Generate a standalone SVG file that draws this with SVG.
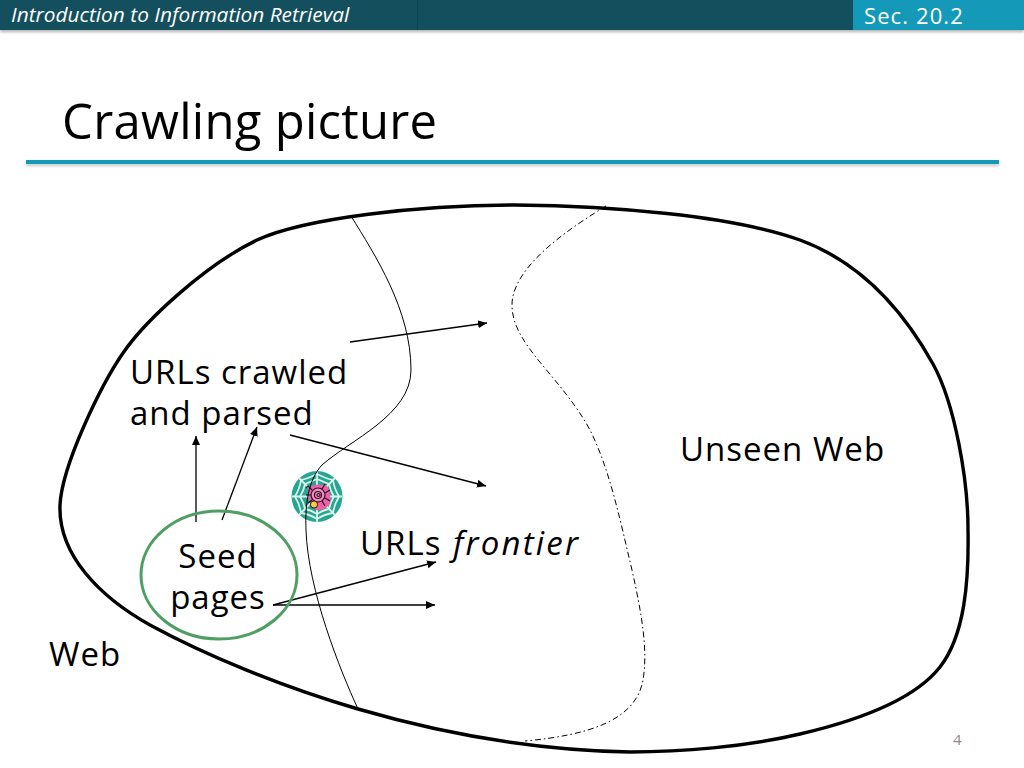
<svg xmlns="http://www.w3.org/2000/svg" width="1024" height="768" viewBox="0 0 1024 768">
<style>
text{font-family:"Open Sans","Noto Sans",sans-serif;fill:#000}
.lbl{font-size:33px;letter-spacing:1px}
.thin{fill:none;stroke:#000;stroke-width:1}
.arr{fill:none;stroke:#000;stroke-width:1.3;marker-end:url(#a)}
</style>
<defs>
<marker id="a" markerUnits="userSpaceOnUse" markerWidth="10" markerHeight="9" refX="9" refY="4" orient="auto"><path d="M0 0L9 4L0 8Z" fill="#000"/></marker>
<filter id="s" x="-2%" y="-50%" width="104%" height="250%"><feGaussianBlur stdDeviation="1.5"/></filter>
</defs>
<rect width="1024" height="768" fill="#fff"/>
<g id="header">
<rect x="0" y="3" width="1024" height="29" fill="#777" opacity=".55" filter="url(#s)"/>
<rect x="0" y="0" width="853" height="30" fill="#134f5c"/>
<rect x="417" y="0" width="1" height="30" fill="#0e434e"/>
<rect x="853" y="0" width="171" height="30" fill="#1499b8"/>
<text x="11" y="22" font-size="20.85" font-style="italic" style="fill:#fff">Introduction to Information Retrieval</text>
<text x="864" y="24" font-size="22" letter-spacing="1.1" style="fill:#fff">Sec. 20.2</text>
</g>
<g id="title">
<text x="62" y="139" font-size="49" letter-spacing=".27">Crawling picture</text>
<rect x="26" y="163" width="973" height="3" fill="#888" opacity=".5" filter="url(#s)"/>
<rect x="26" y="160" width="973" height="4" fill="#1499b8"/>
</g>
<g id="web">
<path d="M60 505C62 465 101 385 123 353C145 321 205 265 257 240C305 218 420 205 515 205C610 206 730 215 800 240C860 262 903 310 933 364C955 404 968 480 968 529C969 580 965 635 940 667C915 699 860 720 800 734C745 747 680 752 630 752C520 750 430 730 358 709C280 686 205 655 150 625C100 597 58 555 60 505Z" fill="none" stroke="#000" stroke-width="3.4"/>
</g>
<g id="crawler">
<circle cx="317" cy="496.500" r="25.500" fill="#26a592"/>
<g fill="none" stroke="#d9f3ea" stroke-width="1.8">
<path d="M317 471V522M292 496.500H342M299 478L335 515M335 478L299 515"/>
<path d="M317 474Q327 479 333 480Q334 488 339 496.500Q334 505 333 513Q325 514 317 519Q309 514 301 513Q300 505 295 496.500Q300 488 301 480Q307 479 317 474Z"/>
<path d="M317 479Q324 482 329 484Q330 490 334 496.500Q330 503 329 509Q323 510 317 514Q311 510 305 509Q304 503 300 496.500Q304 490 305 484Q310 482 317 479Z"/>
</g>
<path d="M308 488Q317 482 327 486Q332 495 330 504Q324 511 316 510Q307 505 308 488Z" fill="#f060a8"/>
<g fill="none" stroke="#2a1020" stroke-width="1.2">
<circle cx="318" cy="495" r="7" fill="#f48cc0"/><circle cx="318" cy="495" r="3.500"/><circle cx="318.500" cy="495" r="1.500"/>
<path d="M312 490L308 486L306 488M311 495H306M312 500L308 503M322 489L325 484M325 493L330 490M325 498L330 501M322 501L325 506"/>
</g>
<circle cx="314" cy="504.500" r="3.600" fill="#f0d040" stroke="#2a1020"/>
</g>
<g id="connectors">
<path class="thin" d="M351 216C375 255 411 310 411 370C411 415 350 440 322 465C308 480 305 505 306 530C308 590 340 670 358 709"/>
<path class="thin" stroke-dasharray="6 3 1.5 3" d="M606 206C575 225 512 265 512 305C512 345 560 375 590 430C610 470 620 520 632 570C642 615 648 650 643 680C636 720 590 735 525 741"/>
<path class="arr" d="M350 342L487 323"/>
<path class="arr" d="M290 435L486 486"/>
<path class="arr" d="M196 522V436"/>
<path class="arr" d="M222 520L257 427"/>
<path class="arr" d="M273 605L436 562"/>
<path class="arr" d="M273 605H435"/>
</g>
<g id="seed">
<ellipse cx="219" cy="575" rx="78" ry="64" fill="none" stroke="#4f9e64" stroke-width="3"/>
<text class="lbl" x="218" y="568" text-anchor="middle">Seed</text>
<text class="lbl" x="218" y="609" text-anchor="middle">pages</text>
</g>
<g id="labels">
<text class="lbl" x="130" y="384">URLs crawled</text>
<text class="lbl" x="130" y="425">and parsed</text>
<text class="lbl" x="680" y="461">Unseen Web</text>
<text class="lbl" x="360" y="555">URLs <tspan x="453" font-style="italic" letter-spacing="2.200">frontier</tspan></text>
<text class="lbl" x="49" y="666">Web</text>
<text x="953" y="745" font-size="15" style="fill:#8c8c8c">4</text>
</g>
</svg>
